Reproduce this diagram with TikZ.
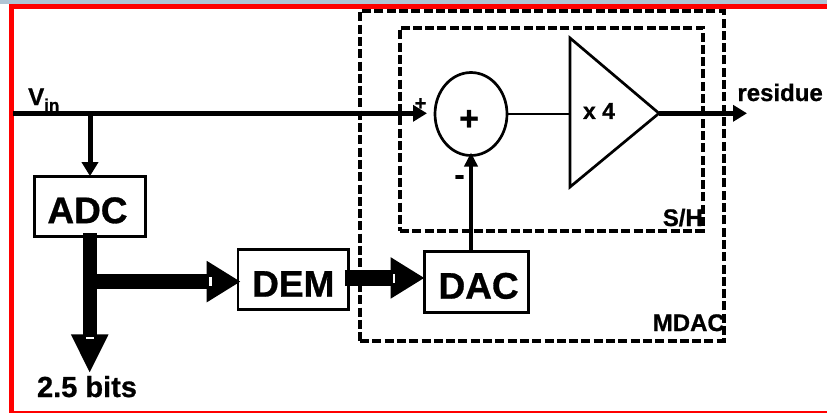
\documentclass[tikz,border=0pt]{standalone}
\usepackage{fontspec}
\setmainfont[BoldFeatures={FakeBold=0.8}]{Liberation Sans}
\usetikzlibrary{shapes, arrows.meta, positioning}
\definecolor{titlebar}{HTML}{B0C4D4}
\tikzstyle{block} = [rectangle, draw, line width=2.7pt, outer sep=0pt, minimum width=110.6pt,
    minimum height=60pt, text height=34pt, text depth=0pt, font=\fontsize{37}{37}\selectfont\bfseries]
\tikzstyle{frame} = [rectangle, draw, line width=4pt, dash pattern=on 9pt off 3.3pt, outer sep=0pt]
\tikzstyle{wire} = [draw, line width=5pt, -{Triangle[length=14pt,width=16pt]}]
\tikzstyle{bus} = [draw, line width=15pt, -{Triangle[length=34pt,width=39pt]}]
\tikzstyle{tag} = [inner sep=0pt, font=\fontsize{24}{24}\selectfont\bfseries]
\begin{document}
\begin{tikzpicture}[x=1pt, y=-1pt]
      \useasboundingbox (0,0) rectangle (827,413);
      % page edge
      \fill [white] (0,0) rectangle (827,413);
      \fill [titlebar] (0,0) rectangle (827,4);
      \draw [red, line width=4.4pt] (827,6.3) -- (11.3,6.3) -- (11.3,413);
      \draw [red, line width=2pt] (9.3,412) -- (827,412);
      % frames
      \node [frame, minimum width=363.5pt, minimum height=329.5pt] (mdac) at (541.75,175.75) {};
      \node [frame, minimum width=303pt, minimum height=203pt] (sh) at (551.5,129) {};
      \node [tag, anchor=base east] (sh-label) at (703,226) {S/H};
      \node [tag, anchor=base east] (mdac-label) at (725,331) {MDAC};
      % blocks
      \node [block] (adc) at (90,206.15) {ADC\kern5pt};
      \node [block, right=92.7pt of adc, yshift=-73.5pt] (dem) {DEM};
      \node [block, right=76pt of dem, yshift=-2pt, minimum width=104pt, minimum height=61pt] (dac) {\hspace{4pt}DAC};
      \node [ellipse, draw, line width=2.7pt, outer sep=0pt, minimum width=72pt, minimum height=83pt,
          inner sep=0pt] (sum) at (471,114) {};
      \node [inner sep=0pt, font=\fontsize{34}{34}\selectfont\bfseries] (sum-label) at (469,120) {+};
      % amplifier
      \coordinate (amp-in) at (570,114);
      \coordinate (amp-out) at (659,113.3);
      \draw [line width=2.7pt, line join=miter] (570,38) -- (570,187) -- (amp-out) -- cycle;
      \node [tag, font=\fontsize{23}{23}\selectfont\bfseries] (gain) at (599,111) {x 4};
      % Draw edges
      \coordinate (vin) at (13,113.3);
      \coordinate (tap) at (89.7,281.6);
      \coordinate (residue-end) at (747,113.3);
      \coordinate (bits-end) at (89.7,373.3);
      \path [wire, shorten >=8pt] (vin) -- (vin -| sum.west);
      \path [wire] (vin -| adc.north) -- (adc.north);
      \path [draw, line width=2.3pt] (sum.east) -- (amp-in);
      \path [wire] (amp-out) -- (residue-end);
      \path [wire, line width=4.3pt, -{Triangle[length=14pt,width=13pt]}, shorten >=-3pt]
          (sum.south |- dac.north) -- (sum.south);
      \path [draw, line width=14pt] ([yshift=3pt]adc.south -| tap) -- (tap);
      \path [bus, line width=14pt, -{Triangle[length=39pt,width=34.6pt]}] (tap) -- (bits-end);
      \path [bus, shorten >=-2.7pt] (tap) -- (tap -| dem.west);
      \path [bus, line width=16pt] ([shift={(-3.7pt,1.7pt)}]dem.east) -- ([yshift=1.7pt]dem.east -| dac.west);
      % gaps in the heads
      \fill [white] (209,277.3) rectangle (212,286);
      \fill [white] (392.7,274) rectangle (395,282.7);
      \fill [white] (86,336.7) rectangle (94,339.3);
      % labels
      \node [tag, anchor=base west] (vin-label) at (28,105) {V\raisebox{-6pt}{\fontsize{17}{17}\selectfont in}};
      \node [tag, font=\fontsize{20}{20}\selectfont\bfseries] (plus) at (420.5,104) {+};
      \node [tag, font=\fontsize{30}{30}\selectfont\bfseries] (minus) at (459.5,180) {-};
      \node [tag, anchor=base east] (residue) at (823,101) {residue};
      \node [tag, anchor=base, font=\fontsize{29}{29}\selectfont\bfseries] (bits) at (87,397) {2.5 bits};
  \end{tikzpicture}
\end{document}
